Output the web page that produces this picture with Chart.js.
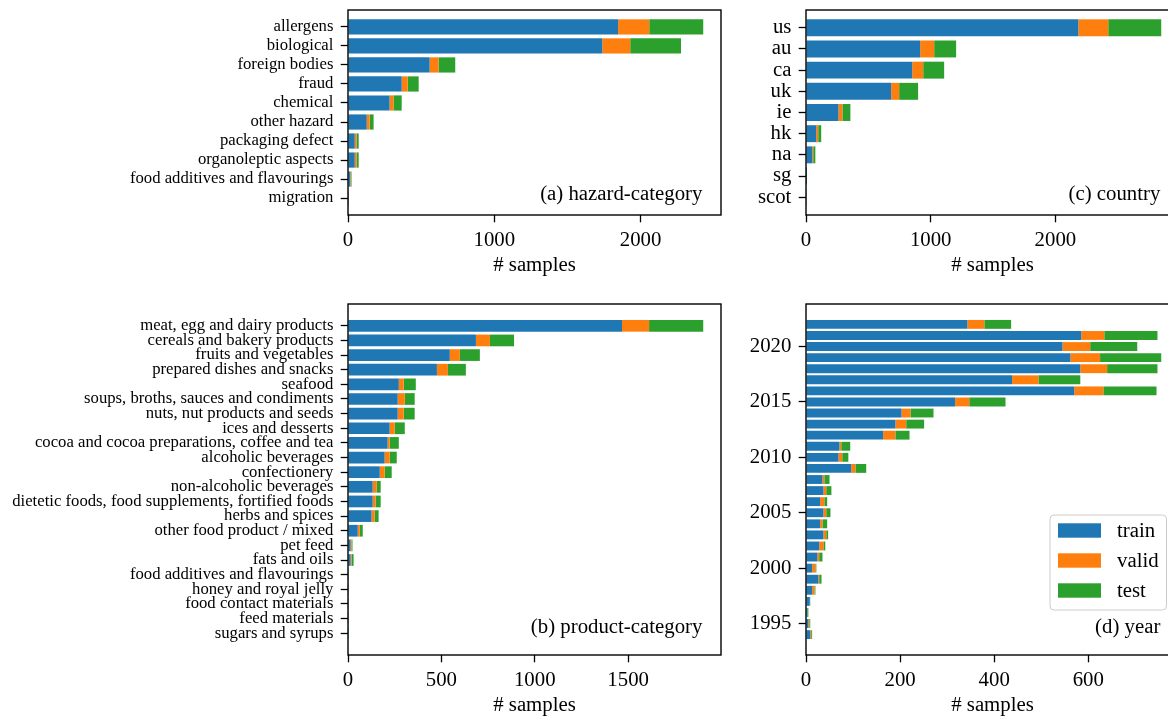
<!DOCTYPE html>
<html>
<head>
<meta charset="utf-8">
<script src="https://cdn.jsdelivr.net/npm/chart.js@4.4.1/dist/chart.umd.min.js"></script>
<style>
  html, body { margin: 0; padding: 0; background: #fff; }
  #page { position: relative; width: 1168px; height: 718px; overflow: hidden; background: #fff; }
  canvas { position: absolute; }
</style>
</head>
<body>
<div id="page">
  <canvas id="hazard" style="left:0;top:0" width="726" height="278"></canvas>
  <canvas id="country" style="left:730px;top:0" width="454" height="278"></canvas>
  <canvas id="product" style="left:0;top:294px" width="726" height="424"></canvas>
  <canvas id="year" style="left:730px;top:294px" width="454" height="424"></canvas>
</div>
<script>
// (a) hazard category
const hazardLabels = ['allergens', 'biological', 'foreign bodies', 'fraud', 'chemical', 'other hazard',
    'packaging defect', 'organoleptic aspects', 'food additives and flavourings', 'migration'];
const hazardTrain = [1846, 1738, 558, 367, 284, 128, 46, 46, 15, 1];
const hazardValid = [213, 191, 61, 41, 27, 20, 13, 13, 4, 0];
const hazardTest = [369, 347, 114, 75, 56, 27, 14, 14, 5, 1];
const hazardTicks = [0, 1000, 2000];

// (c) country
const countryLabels = ['us', 'au', 'ca', 'uk', 'ie', 'hk', 'na', 'sg', 'scot'];
const countryTrain = [2184, 916, 852, 683, 260, 82, 50, 1, 0];
const countryValid = [240, 112, 88, 64, 32, 16, 8, 1, 0];
const countryTest = [425, 176, 168, 152, 64, 24, 17, 6, 1];
const countryTicks = [0, 1000, 2000];

// (b) product category
const productLabels = ['meat, egg and dairy products', 'cereals and bakery products', 'fruits and vegetables',
    'prepared dishes and snacks', 'seafood', 'soups, broths, sauces and condiments', 'nuts, nut products and seeds',
    'ices and desserts', 'cocoa and cocoa preparations, coffee and tea', 'alcoholic beverages', 'confectionery',
    'non-alcoholic beverages', 'dietetic foods, food supplements, fortified foods', 'herbs and spices',
    'other food product / mixed', 'pet feed', 'fats and oils', 'food additives and flavourings',
    'honey and royal jelly', 'food contact materials', 'feed materials', 'sugars and syrups'];
const productTrain = [1467, 685, 545, 476, 272, 266, 266, 223, 212, 196, 170, 132, 132, 126, 52, 14, 14, 3, 3, 3, 3, 1];
const productValid = [145, 75, 54, 59, 26, 38, 32, 27, 11, 27, 26, 22, 16, 17, 11, 5, 5, 0, 0, 0, 0, 0];
const productTest = [290, 129, 107, 96, 65, 53, 59, 54, 49, 38, 38, 21, 27, 21, 16, 5, 11, 2, 2, 2, 2, 1];
const productTicks = [0, 500, 1000, 1500];

// (d) year
const years = [1994, 1995, 1996, 1997, 1998, 1999, 2000, 2001, 2002, 2003, 2004, 2005, 2006, 2007, 2008,
    2009, 2010, 2011, 2012, 2013, 2014, 2015, 2016, 2017, 2018, 2019, 2020, 2021, 2022];
const yearTrain = [9, 5, 3, 8, 13, 26, 13, 24, 28, 37, 30, 37, 30, 37, 35,
    96, 69, 71, 164, 190, 203, 317, 570, 438, 583, 562, 545, 585, 343];
const yearValid = [2, 2, 0, 0, 5, 2, 7, 4, 9, 6, 5, 6, 9, 6, 4,
    9, 8, 4, 26, 23, 19, 30, 62, 56, 57, 63, 59, 49, 36];
const yearTest = [2, 2, 2, 1, 2, 5, 2, 7, 4, 4, 10, 9, 6, 11, 11,
    23, 13, 19, 30, 38, 49, 77, 113, 89, 107, 130, 100, 113, 57];
const yearTicks = [1995, 2000, 2005, 2010, 2015, 2020];
const yearCountTicks = [0, 200, 400, 600];

const SERIF = '"Liberation Serif", "Times New Roman", serif';
const BIG = 20.8;
const SMALL = 16.7;
const COLORS = ['#1f77b4', '#ff7f0e', '#2ca02c'];
const SPLITS = ['train', 'valid', 'test'];

function makeSets(index, train, valid, test) {
    return [train, valid, test].map((vals, k) => ({
        label: SPLITS[k],
        data: vals.map((v, i) => ({ x: v, y: index[i] })),
        backgroundColor: COLORS[k],
        borderWidth: 0,
        barPercentage: 0.8,
        categoryPercentage: 1.0
    }));
}

const tickGrid = {
    display: true, drawOnChartArea: false, drawTicks: true, offset: false,
    tickLength: 7.3, tickWidth: 1.3, tickColor: '#000'
};

function countAxis(totals, tickValues) {
    return {
        type: 'linear', stacked: true, min: 0, max: Math.max(...totals) * 1.05,
        grid: tickGrid, border: { display: false },
        afterBuildTicks: s => { s.ticks = tickValues.map(v => ({ value: v })); },
        afterFit: s => { s.height = 63; s.paddingLeft = 0; s.paddingRight = 0; },
        ticks: { color: '#000', padding: 6, font: { family: SERIF, size: BIG }, callback: v => String(v) },
        title: { display: true, text: '# samples', color: '#000', padding: 0, font: { family: SERIF, size: BIG } }
    };
}

function labelAxis(labels, width, size) {
    const n = labels.length;
    const m = 0.05 * (n - 0.2);
    return {
        type: 'linear', stacked: true, reverse: true, offset: false, min: -0.4 - m, max: n - 0.6 + m,
        grid: tickGrid, border: { display: false },
        afterBuildTicks: s => { s.ticks = labels.map((_, i) => ({ value: i })); },
        afterFit: s => { s.width = width; s.paddingTop = 0; s.paddingBottom = 0; },
        ticks: { color: '#000', padding: 7.3, autoSkip: false, font: { family: SERIF, size: size },
            callback: v => labels[v] }
    };
}

// frame round the plot area and the panel caption in its lower right corner
const notePlugin = {
    id: 'note',
    afterDraw(chart, args, opts) {
        const a = chart.chartArea;
        const c = chart.ctx;
        c.save();
        c.strokeStyle = '#000';
        c.lineWidth = 1.4;
        c.strokeRect(a.left, a.top, a.right - a.left, a.bottom - a.top);
        c.fillStyle = '#000';
        c.font = BIG + 'px ' + SERIF;
        c.textAlign = 'right';
        c.textBaseline = 'bottom';
        c.fillText(opts.text, a.right - 0.05 * (a.right - a.left), a.bottom - 0.05 * (a.bottom - a.top));
        c.restore();
    }
};

const legendPlugin = {
    id: 'boxLegend',
    afterDraw(chart) {
        const a = chart.chartArea;
        const c = chart.ctx;
        const x = a.right - 129, y = a.bottom - 140, w = 116.5, h = 95;
        c.save();
        c.beginPath();
        c.roundRect(x, y, w, h, 4);
        c.fillStyle = 'rgba(255,255,255,0.8)';
        c.fill();
        c.strokeStyle = '#cccccc';
        c.lineWidth = 1;
        c.stroke();
        c.font = BIG + 'px ' + SERIF;
        c.textBaseline = 'middle';
        chart.data.datasets.forEach((ds, k) => {
            const cy = y + 15.5 + 30 * k;
            c.fillStyle = ds.backgroundColor;
            c.fillRect(x + 8, cy - 7.2, 43, 14.4);
            c.fillStyle = '#000';
            c.fillText(ds.label, x + 67, cy + 1);
        });
        c.restore();
    }
};

function totals(a, b, c) { return a.map((v, i) => v + b[i] + c[i]); }

function baseOptions(xAxis, yAxis, text) {
    return {
        indexAxis: 'y',
        responsive: false,
        animation: false,
        layout: { padding: { top: 10, right: 5, left: 0, bottom: 0 } },
        scales: { x: xAxis, y: yAxis },
        plugins: { legend: { display: false }, tooltip: { enabled: false }, note: { text: text } }
    };
}

new Chart(document.getElementById('hazard'), {
    type: 'bar',
    data: { datasets: makeSets(hazardLabels.map((_, i) => i), hazardTrain, hazardValid, hazardTest) },
    options: baseOptions(countAxis(totals(hazardTrain, hazardValid, hazardTest), hazardTicks),
        labelAxis(hazardLabels, 348, SMALL), '(a) hazard-category'),
    plugins: [notePlugin]
});

new Chart(document.getElementById('country'), {
    type: 'bar',
    data: { datasets: makeSets(countryLabels.map((_, i) => i), countryTrain, countryValid, countryTest) },
    options: baseOptions(countAxis(totals(countryTrain, countryValid, countryTest), countryTicks),
        labelAxis(countryLabels, 76, BIG), '(c) country'),
    plugins: [notePlugin]
});

new Chart(document.getElementById('product'), {
    type: 'bar',
    data: { datasets: makeSets(productLabels.map((_, i) => i), productTrain, productValid, productTest) },
    options: baseOptions(countAxis(totals(productTrain, productValid, productTest), productTicks),
        labelAxis(productLabels, 348, SMALL), '(b) product-category'),
    plugins: [notePlugin]
});

const yLo = Math.min(...years) - 0.4, yHi = Math.max(...years) + 0.4, yPad = 0.05 * (yHi - yLo);
new Chart(document.getElementById('year'), {
    type: 'bar',
    data: { datasets: makeSets(years, yearTrain, yearValid, yearTest) },
    options: baseOptions(countAxis(totals(yearTrain, yearValid, yearTest), yearCountTicks), {
        type: 'linear', stacked: true, offset: false, min: yLo - yPad, max: yHi + yPad,
        grid: tickGrid, border: { display: false },
        afterBuildTicks: s => { s.ticks = yearTicks.map(v => ({ value: v })); },
        afterFit: s => { s.width = 76; s.paddingTop = 0; s.paddingBottom = 0; },
        ticks: { color: '#000', padding: 7.3, font: { family: SERIF, size: BIG }, callback: v => String(v) }
    }, '(d) year'),
    plugins: [notePlugin, legendPlugin]
});
</script>
</body>
</html>
